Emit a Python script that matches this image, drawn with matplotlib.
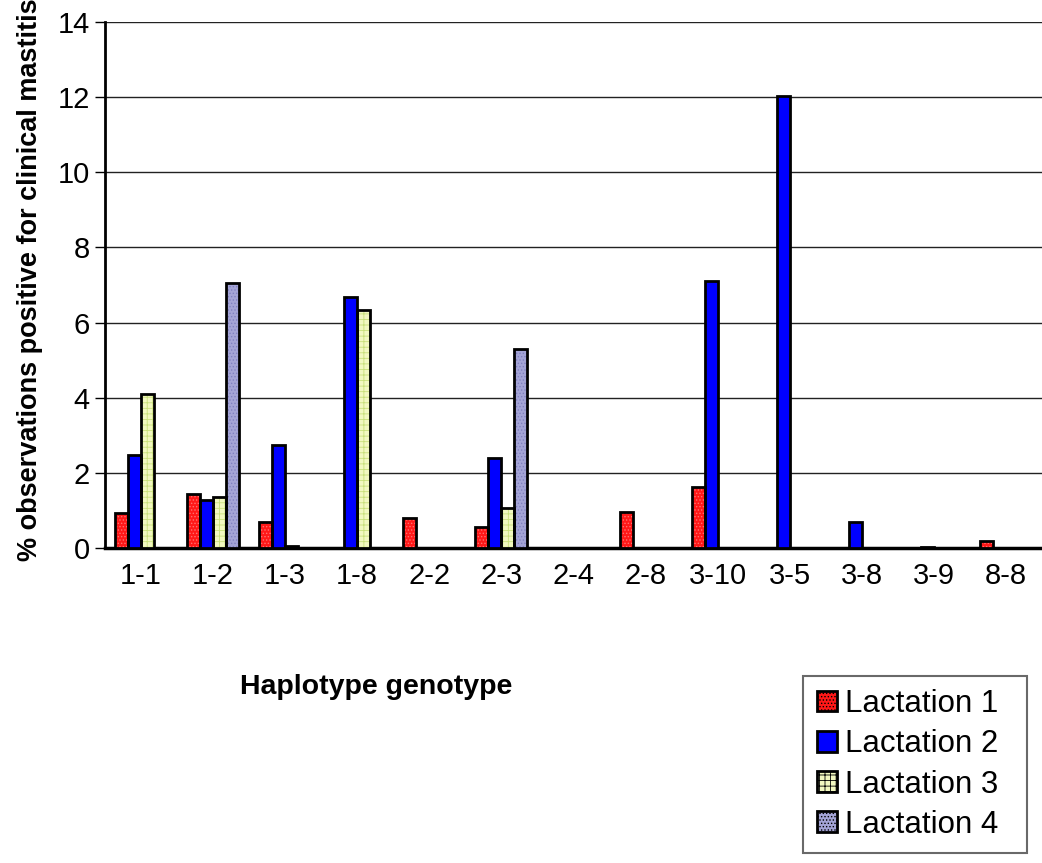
import matplotlib.pyplot as plt
import numpy as np

plt.rcParams['font.family'] = ['Liberation Sans', 'DejaVu Sans']
plt.rcParams['hatch.linewidth'] = 0.6

# % observations positive for clinical mastitis, per haplotype genotype
genotypes = ['1-1', '1-2', '1-3', '1-8', '2-2', '2-3', '2-4', '2-8',
             '3-10', '3-5', '3-8', '3-9', '8-8']
lact1 = [0.93, 1.45, 0.70, 0.0, 0.80, 0.56, 0.0, 0.95, 1.63, 0.0, 0.0, 0.0, 0.19]
lact2 = [2.47, 1.28, 2.75, 6.68, 0.0, 2.40, 0.0, 0.0, 7.10, 12.03, 0.70, 0.03, 0.0]
lact3 = [4.10, 1.35, 0.05, 6.33, 0.0, 1.07, 0.0, 0.0, 0.0, 0.0, 0.0, 0.0, 0.0]
lact4 = [0.0, 7.05, 0.0, 0.0, 0.0, 5.30, 0.0, 0.0, 0.0, 0.0, 0.0, 0.0, 0.0]
series_names = ['Lactation 1', 'Lactation 2', 'Lactation 3', 'Lactation 4']

# face colour, hatch colour, hatch pattern
styles = [('#ff1818', '#ff7070', '.....'),
          ('#0000ff', '#0000ff', None),
          ('#f2f8c0', '#c8e07a', '+++'),
          ('#a4a4d6', '#8080c0', '.....')]

fig = plt.figure(figsize=(10.42, 8.63), dpi=100)
ax = fig.add_axes([0.1008, 0.365, 0.899, 0.6095])

x = np.arange(len(genotypes))
w = 0.18
handles = []
for k, (vals, (fc, hc, hp)) in enumerate(zip([lact1, lact2, lact3, lact4], styles)):
    pos = x + (k - 1.5) * w
    # textured fill first, then the black outline on top
    ax.bar(pos, vals, w, color=fc, edgecolor=hc, hatch=hp, linewidth=0, zorder=3)
    ax.bar(pos, vals, w, facecolor='none', edgecolor='black', linewidth=2, zorder=4)
    handles.append(plt.Rectangle((0, 0), 1, 1, facecolor=fc, edgecolor='black',
                                 hatch=hp, linewidth=2))

ax.set_xlim(-0.5, len(genotypes) - 0.5)
ax.set_ylim(0, 14)
ax.set_yticks(np.arange(0, 15, 2))
ax.set_xticks(x)
ax.set_xticklabels(genotypes, fontsize=21)
ax.tick_params(axis='y', labelsize=21, length=7, width=1, direction='out', pad=4)
ax.tick_params(axis='x', length=0, pad=10)
ax.yaxis.grid(True, color='#222222', linewidth=1)
ax.set_axisbelow(True)
for s in ['top', 'right']:
    ax.spines[s].set_visible(False)
ax.spines['left'].set_linewidth(2)
ax.spines['bottom'].set_linewidth(2.5)

fig.text(0.029, 0.676, '% observations positive for clinical mastitis', rotation=90,
         ha='center', va='center', fontsize=19.5, fontweight='bold')
fig.text(0.361, 0.204, 'Haplotype genotype', ha='center', va='center',
         fontsize=20.5, fontweight='bold')

leg = fig.legend(handles, series_names, loc='lower left',
                 bbox_to_anchor=(0.771, 0.0116, 0.215, 0.197), mode='expand',
                 fontsize=22.5, frameon=True, fancybox=False, borderaxespad=0,
                 handlelength=0.65, handleheight=0.65, handletextpad=0.25,
                 labelspacing=0.33, borderpad=0.42)
leg.get_frame().set_edgecolor('#444444')
leg.get_frame().set_linewidth(1.5)

fig.savefig('out.png', dpi=100)
